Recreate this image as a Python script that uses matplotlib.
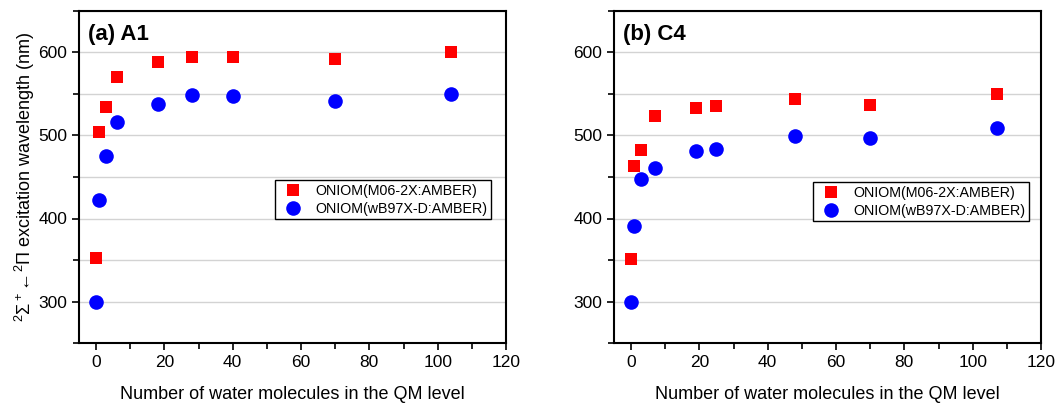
import matplotlib
matplotlib.use("Agg")
import matplotlib.pyplot as plt
from matplotlib.ticker import MultipleLocator

plt.rcParams['font.family'] = ['Liberation Sans', 'DejaVu Sans']
plt.rcParams['mathtext.fontset'] = 'custom'
plt.rcParams['mathtext.rm'] = 'Liberation Sans'
plt.rcParams['mathtext.it'] = 'Liberation Sans:italic'
plt.rcParams['mathtext.bf'] = 'Liberation Sans:bold'

# panel (a) A1
a1_water = [0, 1, 3, 6, 18, 28, 40, 70, 104]
a1_m06 = [352, 504, 534, 570, 588, 594, 594, 592, 600]
a1_wb97 = [300, 422, 475, 516, 538, 549, 547, 542, 550]

# panel (b) C4
c4_water = [0, 1, 3, 7, 19, 25, 48, 70, 107]
c4_m06 = [351, 463, 483, 523, 533, 535, 544, 537, 550]
c4_wb97 = [299, 391, 448, 461, 481, 484, 499, 497, 509]

panels = [
    ("(a) A1", a1_water, a1_m06, a1_wb97, 0.459, 0.491),
    ("(b) C4", c4_water, c4_m06, c4_wb97, 0.466, 0.485),
]

fig = plt.figure(figsize=(10.61, 4.05), dpi=100)
lefts = [79 / 1061, 614 / 1061]
bottom = (405 - 343) / 405
width = 427 / 1061
height = 332 / 405

for i, (title, x, m06, wb97, lx, ly) in enumerate(panels):
    ax = fig.add_axes([lefts[i], bottom, width, height])
    ax.plot(x, m06, 's', color='#ff0000', markersize=8.7, markeredgewidth=0,
            label='ONIOM(M06-2X:AMBER)', zorder=3)
    ax.plot(x, wb97, 'o', color='#0000ff', markersize=10.5, markeredgewidth=0,
            label='ONIOM(wB97X-D:AMBER)', zorder=3)
    ax.set_xlim(-5, 120)
    ax.set_ylim(250, 650)
    ax.xaxis.set_major_locator(MultipleLocator(20))
    ax.xaxis.set_minor_locator(MultipleLocator(10))
    ax.yaxis.set_major_locator(MultipleLocator(100))
    ax.yaxis.set_minor_locator(MultipleLocator(50))
    ax.grid(True, which='both', axis='y', color='#d3d3d3', linewidth=1.0, zorder=0)
    ax.set_axisbelow(True)
    ax.tick_params(which='both', direction='out', top=False, right=False,
                   labelsize=12.5, width=1.2)
    ax.tick_params(which='major', length=5)
    ax.tick_params(which='minor', length=4)
    for s in ax.spines.values():
        s.set_linewidth(1.5)
    ax.set_xlabel('Number of water molecules in the QM level', fontsize=13, labelpad=12)
    if i == 0:
        ax.set_ylabel(r'$^2\Sigma^+\!\leftarrow\!{}^2\Pi$ excitation wavelength (nm)',
                      fontsize=13, labelpad=1)
    ax.text(0.02, 0.93, title, transform=ax.transAxes, fontsize=16,
            fontweight='bold', va='center', ha='left')
    leg = ax.legend(loc='upper left', bbox_to_anchor=(lx, ly), borderaxespad=0,
                    fancybox=False, framealpha=1, edgecolor='black', fontsize=10.3,
                    handletextpad=0.6, borderpad=0.25, labelspacing=0.3,
                    handlelength=2.0)
    leg.get_frame().set_linewidth(1.0)

fig.savefig('out.png', dpi=100)
